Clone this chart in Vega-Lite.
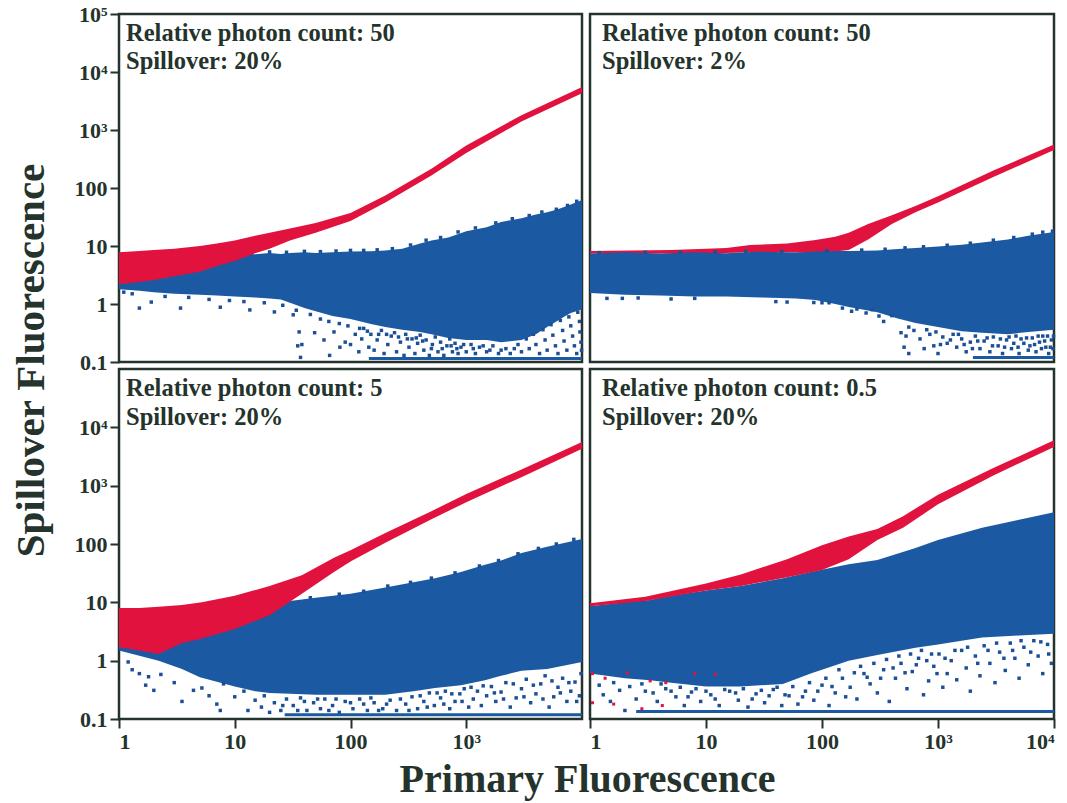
{"$schema":"https://vega.github.io/schema/vega-lite/v6.json","background":"white","padding":{"left":8,"top":1,"right":0,"bottom":0},"autosize":{"type":"pad"},
"config":{"view":{"stroke":"#24332b","strokeWidth":2.5},"font":"Liberation Serif","axis":{"grid":false,"domain":false,"tickColor":"#24332b","tickWidth":2,"tickSize":9,"labelFont":"Liberation Serif","labelFontWeight":"bold","labelFontSize":22,"labelColor":"#24332b","labelPadding":3,"titleFont":"Liberation Serif","titleFontWeight":"bold","titleColor":"#24332b","titleFontSize":41,"titleBaseline":"alphabetic"}},
"spacing":{"row":5,"column":7},"columns":2,"bounds":"flush","align":"all",
"datasets":{
"bands":[
{"p":"A","s":"blue","x":1,"lo":1.8,"hi":3},{"p":"A","s":"blue","x":1.5,"lo":1.7,"hi":3.5},{"p":"A","s":"blue","x":2,"lo":1.6,"hi":4},{"p":"A","s":"blue","x":3,"lo":1.5,"hi":4.8},{"p":"A","s":"blue","x":5,"lo":1.45,"hi":5.5},{"p":"A","s":"blue","x":7,"lo":1.4,"hi":6},{"p":"A","s":"blue","x":10,"lo":1.35,"hi":6.5},{"p":"A","s":"blue","x":15,"lo":1.3,"hi":7.2},{"p":"A","s":"blue","x":20,"lo":1.25,"hi":7.6},{"p":"A","s":"blue","x":25,"lo":1.2,"hi":7.3},{"p":"A","s":"blue","x":30,"lo":1.05,"hi":7.6},{"p":"A","s":"blue","x":40,"lo":0.85,"hi":7.8},{"p":"A","s":"blue","x":50,"lo":0.75,"hi":7.6},{"p":"A","s":"blue","x":70,"lo":0.62,"hi":7.8},{"p":"A","s":"blue","x":100,"lo":0.55,"hi":8},{"p":"A","s":"blue","x":150,"lo":0.45,"hi":8.1},{"p":"A","s":"blue","x":200,"lo":0.4,"hi":8.4},{"p":"A","s":"blue","x":280,"lo":0.36,"hi":9},{"p":"A","s":"blue","x":400,"lo":0.33,"hi":11},{"p":"A","s":"blue","x":500,"lo":0.3,"hi":12.5},{"p":"A","s":"blue","x":700,"lo":0.26,"hi":14},{"p":"A","s":"blue","x":1000,"lo":0.24,"hi":18},{"p":"A","s":"blue","x":1500,"lo":0.24,"hi":21},{"p":"A","s":"blue","x":2000,"lo":0.22,"hi":26},{"p":"A","s":"blue","x":3000,"lo":0.24,"hi":30},{"p":"A","s":"blue","x":4000,"lo":0.3,"hi":35},{"p":"A","s":"blue","x":5000,"lo":0.4,"hi":38},{"p":"A","s":"blue","x":6000,"lo":0.5,"hi":42},{"p":"A","s":"blue","x":7000,"lo":0.6,"hi":47},{"p":"A","s":"blue","x":8000,"lo":0.7,"hi":52},{"p":"A","s":"blue","x":10000,"lo":0.8,"hi":62},
{"p":"A","s":"red","x":1,"lo":2.2,"hi":7.8},{"p":"A","s":"red","x":1.5,"lo":2.4,"hi":8.2},{"p":"A","s":"red","x":2,"lo":2.6,"hi":8.5},{"p":"A","s":"red","x":3,"lo":3,"hi":9},{"p":"A","s":"red","x":5,"lo":3.6,"hi":10},{"p":"A","s":"red","x":7,"lo":4.5,"hi":11},{"p":"A","s":"red","x":10,"lo":5.5,"hi":12.5},{"p":"A","s":"red","x":15,"lo":7.5,"hi":15},{"p":"A","s":"red","x":20,"lo":9,"hi":17},{"p":"A","s":"red","x":30,"lo":12.5,"hi":20},{"p":"A","s":"red","x":50,"lo":17,"hi":25},{"p":"A","s":"red","x":100,"lo":27,"hi":37},{"p":"A","s":"red","x":200,"lo":56,"hi":74},{"p":"A","s":"red","x":500,"lo":165,"hi":215},{"p":"A","s":"red","x":1000,"lo":400,"hi":540},{"p":"A","s":"red","x":3000,"lo":1400,"hi":1800},{"p":"A","s":"red","x":10000,"lo":4300,"hi":5500},
{"p":"B","s":"red","x":1,"lo":7.4,"hi":8.2},{"p":"B","s":"red","x":5,"lo":7.4,"hi":8.5},{"p":"B","s":"red","x":15,"lo":7.6,"hi":9.2},{"p":"B","s":"red","x":24,"lo":7.8,"hi":10.4},{"p":"B","s":"red","x":50,"lo":7.8,"hi":11},{"p":"B","s":"red","x":88,"lo":7.6,"hi":12.7},{"p":"B","s":"red","x":130,"lo":8,"hi":14.5},{"p":"B","s":"red","x":170,"lo":8.5,"hi":17},{"p":"B","s":"red","x":250,"lo":13,"hi":24},{"p":"B","s":"red","x":400,"lo":24,"hi":34},{"p":"B","s":"red","x":640,"lo":38,"hi":49},{"p":"B","s":"red","x":1000,"lo":56,"hi":72},{"p":"B","s":"red","x":3000,"lo":155,"hi":200},{"p":"B","s":"red","x":10000,"lo":450,"hi":560},
{"p":"B","s":"blue","x":1,"lo":1.55,"hi":7.4},{"p":"B","s":"blue","x":2,"lo":1.45,"hi":7.8},{"p":"B","s":"blue","x":4,"lo":1.4,"hi":7.4},{"p":"B","s":"blue","x":8,"lo":1.35,"hi":7.8},{"p":"B","s":"blue","x":15,"lo":1.35,"hi":7.5},{"p":"B","s":"blue","x":30,"lo":1.3,"hi":8},{"p":"B","s":"blue","x":60,"lo":1.25,"hi":7.7},{"p":"B","s":"blue","x":88,"lo":1.17,"hi":8},{"p":"B","s":"blue","x":130,"lo":1,"hi":8.2},{"p":"B","s":"blue","x":170,"lo":0.89,"hi":8.2},{"p":"B","s":"blue","x":300,"lo":0.72,"hi":8.4},{"p":"B","s":"blue","x":450,"lo":0.56,"hi":8.9},{"p":"B","s":"blue","x":640,"lo":0.47,"hi":9.2},{"p":"B","s":"blue","x":1000,"lo":0.4,"hi":9.8},{"p":"B","s":"blue","x":1600,"lo":0.34,"hi":10.5},{"p":"B","s":"blue","x":2400,"lo":0.32,"hi":11.5},{"p":"B","s":"blue","x":4000,"lo":0.3,"hi":13},{"p":"B","s":"blue","x":6000,"lo":0.33,"hi":15},{"p":"B","s":"blue","x":10000,"lo":0.36,"hi":17.5},
{"p":"C","s":"blue","x":1,"lo":1.5,"hi":3},{"p":"C","s":"blue","x":2.2,"lo":1,"hi":3.2},{"p":"C","s":"blue","x":3.5,"lo":0.72,"hi":3.5},{"p":"C","s":"blue","x":5,"lo":0.52,"hi":4},{"p":"C","s":"blue","x":10,"lo":0.36,"hi":6},{"p":"C","s":"blue","x":15,"lo":0.3,"hi":8},{"p":"C","s":"blue","x":20,"lo":0.28,"hi":9},{"p":"C","s":"blue","x":30,"lo":0.27,"hi":10.5},{"p":"C","s":"blue","x":50,"lo":0.26,"hi":12},{"p":"C","s":"blue","x":100,"lo":0.26,"hi":14},{"p":"C","s":"blue","x":200,"lo":0.26,"hi":18},{"p":"C","s":"blue","x":350,"lo":0.3,"hi":22},{"p":"C","s":"blue","x":537,"lo":0.34,"hi":26},{"p":"C","s":"blue","x":900,"lo":0.38,"hi":33},{"p":"C","s":"blue","x":1450,"lo":0.46,"hi":44},{"p":"C","s":"blue","x":2000,"lo":0.55,"hi":52},{"p":"C","s":"blue","x":3000,"lo":0.67,"hi":70},{"p":"C","s":"blue","x":5000,"lo":0.72,"hi":90},{"p":"C","s":"blue","x":10000,"lo":0.95,"hi":122},
{"p":"C","s":"red","x":1,"lo":1.7,"hi":8},{"p":"C","s":"red","x":1.5,"lo":1.5,"hi":8},{"p":"C","s":"red","x":2.2,"lo":1.3,"hi":8.4},{"p":"C","s":"red","x":3.5,"lo":2,"hi":9},{"p":"C","s":"red","x":5.2,"lo":2.4,"hi":10},{"p":"C","s":"red","x":10,"lo":3.5,"hi":13},{"p":"C","s":"red","x":20,"lo":6,"hi":19},{"p":"C","s":"red","x":38,"lo":14,"hi":29},{"p":"C","s":"red","x":72,"lo":33,"hi":58},{"p":"C","s":"red","x":100,"lo":50,"hi":78},{"p":"C","s":"red","x":200,"lo":105,"hi":155},{"p":"C","s":"red","x":500,"lo":265,"hi":365},{"p":"C","s":"red","x":1000,"lo":520,"hi":720},{"p":"C","s":"red","x":3000,"lo":1400,"hi":1900},{"p":"C","s":"red","x":10000,"lo":4300,"hi":5600},
{"p":"D","s":"blue","x":1,"lo":0.6,"hi":8.6},{"p":"D","s":"blue","x":2,"lo":0.5,"hi":10},{"p":"D","s":"blue","x":3.3,"lo":0.46,"hi":11},{"p":"D","s":"blue","x":5,"lo":0.42,"hi":13},{"p":"D","s":"blue","x":10,"lo":0.36,"hi":16},{"p":"D","s":"blue","x":20,"lo":0.36,"hi":19},{"p":"D","s":"blue","x":46,"lo":0.4,"hi":26},{"p":"D","s":"blue","x":80,"lo":0.6,"hi":33},{"p":"D","s":"blue","x":170,"lo":1,"hi":45},{"p":"D","s":"blue","x":300,"lo":1.25,"hi":53},{"p":"D","s":"blue","x":640,"lo":1.66,"hi":85},{"p":"D","s":"blue","x":1000,"lo":1.9,"hi":117},{"p":"D","s":"blue","x":2400,"lo":2.5,"hi":190},{"p":"D","s":"blue","x":5000,"lo":2.7,"hi":260},{"p":"D","s":"blue","x":10000,"lo":2.9,"hi":350},
{"p":"D","s":"red","x":1,"lo":8.6,"hi":9.6},{"p":"D","s":"red","x":3,"lo":10.5,"hi":12.5},{"p":"D","s":"red","x":10,"lo":16,"hi":21},{"p":"D","s":"red","x":20,"lo":19,"hi":30},{"p":"D","s":"red","x":50,"lo":27,"hi":55},{"p":"D","s":"red","x":100,"lo":36,"hi":95},{"p":"D","s":"red","x":170,"lo":55,"hi":135},{"p":"D","s":"red","x":300,"lo":117,"hi":180},{"p":"D","s":"red","x":500,"lo":190,"hi":300},{"p":"D","s":"red","x":1000,"lo":480,"hi":700},{"p":"D","s":"red","x":3000,"lo":1500,"hi":2000},{"p":"D","s":"red","x":10000,"lo":4600,"hi":6000}
],
"lines":[{"p":"A","x":144,"y":0.115},{"p":"A","x":10000,"y":0.115},{"p":"B","x":2000,"y":0.12},{"p":"B","x":10000,"y":0.12},{"p":"C","x":27,"y":0.118},{"p":"C","x":10000,"y":0.118},{"p":"D","x":2.5,"y":0.135},{"p":"D","x":10000,"y":0.135}],
"notes":[{"p":"A","x":1.15,"y":45000,"t":"Relative photon count: 50"},{"p":"A","x":1.15,"y":14700,"t":"Spillover: 20%"},{"p":"B","x":1.27,"y":45000,"t":"Relative photon count: 50"},{"p":"B","x":1.27,"y":14700,"t":"Spillover: 2%"},{"p":"C","x":1.15,"y":45000,"t":"Relative photon count: 5"},{"p":"C","x":1.15,"y":14700,"t":"Spillover: 20%"},{"p":"D","x":1.27,"y":45000,"t":"Relative photon count: 0.5"},{"p":"D","x":1.27,"y":14700,"t":"Spillover: 20%"}],
"pts":[
{"p":"A","x":14,"y":7.4},{"p":"A","x":20,"y":7.9},{"p":"A","x":28,"y":7.8},{"p":"A","x":40,"y":8.1},{"p":"A","x":55,"y":8},{"p":"A","x":75,"y":8.2},{"p":"A","x":100,"y":8.4},{"p":"A","x":130,"y":8.4},{"p":"A","x":170,"y":8.6},{"p":"A","x":230,"y":9},{"p":"A","x":330,"y":10.4},{"p":"A","x":450,"y":12.6},{"p":"A","x":600,"y":14},{"p":"A","x":850,"y":17.5},{"p":"A","x":1200,"y":20.5},{"p":"A","x":1800,"y":25},{"p":"A","x":2500,"y":29.5},{"p":"A","x":3500,"y":33.5},{"p":"A","x":4500,"y":38.5},{"p":"A","x":6000,"y":43},{"p":"A","x":7500,"y":50},{"p":"A","x":9000,"y":59},
{"p":"A","x":1.1,"y":1.6},{"p":"A","x":1.3,"y":1.5},{"p":"A","x":2.5,"y":1.35},{"p":"A","x":4,"y":1.3},{"p":"A","x":6,"y":1.2},{"p":"A","x":9,"y":1.15},{"p":"A","x":12,"y":1.1},{"p":"A","x":18,"y":1.05},{"p":"A","x":26,"y":0.95},{"p":"A","x":34,"y":0.78},{"p":"A","x":45,"y":0.66},{"p":"A","x":55,"y":0.55},{"p":"A","x":65,"y":0.5},{"p":"A","x":80,"y":0.46},{"p":"A","x":95,"y":0.42},{"p":"A","x":120,"y":0.38},{"p":"A","x":140,"y":0.34},{"p":"A","x":175,"y":0.3},{"p":"A","x":205,"y":0.3},{"p":"A","x":260,"y":0.27},{"p":"A","x":310,"y":0.25},{"p":"A","x":370,"y":0.26},{"p":"A","x":420,"y":0.23},{"p":"A","x":500,"y":0.17},{"p":"A","x":620,"y":0.17},{"p":"A","x":740,"y":0.19},{"p":"A","x":830,"y":0.17},{"p":"A","x":950,"y":0.2},{"p":"A","x":1150,"y":0.17},{"p":"A","x":1400,"y":0.19},{"p":"A","x":1600,"y":0.16},{"p":"A","x":2000,"y":0.16},{"p":"A","x":2600,"y":0.17},
{"p":"A","x":1.5,"y":0.85},{"p":"A","x":1.9,"y":1.08},{"p":"A","x":3.4,"y":0.85},{"p":"A","x":7.5,"y":0.88},{"p":"A","x":13.5,"y":0.79},{"p":"A","x":22,"y":0.73},{"p":"A","x":32,"y":0.65},{"p":"A","x":36,"y":0.33},{"p":"A","x":35,"y":0.19},{"p":"A","x":38,"y":0.2},{"p":"A","x":37,"y":0.12},{"p":"A","x":49,"y":0.32},{"p":"A","x":59,"y":0.24},{"p":"A","x":72,"y":0.33},{"p":"A","x":66,"y":0.13},{"p":"A","x":81,"y":0.18},{"p":"A","x":118,"y":0.15},{"p":"A","x":90,"y":0.22},{"p":"A","x":144,"y":0.18},{"p":"A","x":100,"y":0.2},{"p":"A","x":110,"y":0.3},{"p":"A","x":125,"y":0.25},{"p":"A","x":130,"y":0.38},{"p":"A","x":150,"y":0.3},{"p":"A","x":160,"y":0.16},{"p":"A","x":170,"y":0.24},{"p":"A","x":185,"y":0.35},{"p":"A","x":195,"y":0.14},{"p":"A","x":210,"y":0.2},{"p":"A","x":225,"y":0.28},{"p":"A","x":240,"y":0.32},{"p":"A","x":250,"y":0.15},{"p":"A","x":270,"y":0.22},{"p":"A","x":290,"y":0.13},{"p":"A","x":300,"y":0.3},{"p":"A","x":320,"y":0.18},{"p":"A","x":340,"y":0.25},{"p":"A","x":360,"y":0.14},{"p":"A","x":380,"y":0.21},{"p":"A","x":400,"y":0.29},{"p":"A","x":430,"y":0.16},{"p":"A","x":450,"y":0.24},{"p":"A","x":480,"y":0.13},{"p":"A","x":510,"y":0.2},{"p":"A","x":540,"y":0.27},{"p":"A","x":570,"y":0.15},{"p":"A","x":600,"y":0.22},{"p":"A","x":640,"y":0.13},{"p":"A","x":680,"y":0.19},{"p":"A","x":720,"y":0.25},{"p":"A","x":760,"y":0.15},{"p":"A","x":800,"y":0.21},{"p":"A","x":850,"y":0.14},{"p":"A","x":900,"y":0.18},{"p":"A","x":1000,"y":0.15},{"p":"A","x":1100,"y":0.2},{"p":"A","x":1200,"y":0.14},{"p":"A","x":1300,"y":0.18},{"p":"A","x":1500,"y":0.15},{"p":"A","x":1700,"y":0.19},{"p":"A","x":1900,"y":0.14},{"p":"A","x":2200,"y":0.17},{"p":"A","x":2400,"y":0.14},{"p":"A","x":2800,"y":0.2},{"p":"A","x":3000,"y":0.15},{"p":"A","x":3300,"y":0.25},{"p":"A","x":3500,"y":0.17},{"p":"A","x":3800,"y":0.3},{"p":"A","x":4000,"y":0.2},{"p":"A","x":4300,"y":0.14},{"p":"A","x":4600,"y":0.36},{"p":"A","x":4800,"y":0.24},{"p":"A","x":5000,"y":0.16},{"p":"A","x":5400,"y":0.44},{"p":"A","x":5600,"y":0.29},{"p":"A","x":5900,"y":0.19},{"p":"A","x":6200,"y":0.14},{"p":"A","x":6500,"y":0.52},{"p":"A","x":6800,"y":0.35},{"p":"A","x":7000,"y":0.23},{"p":"A","x":7400,"y":0.16},{"p":"A","x":7700,"y":0.6},{"p":"A","x":8000,"y":0.42},{"p":"A","x":8300,"y":0.28},{"p":"A","x":8600,"y":0.19},{"p":"A","x":9000,"y":0.14},{"p":"A","x":9200,"y":0.72},{"p":"A","x":9500,"y":0.5},{"p":"A","x":9600,"y":0.33},{"p":"A","x":9800,"y":0.22},{"p":"A","x":9900,"y":0.16},
{"p":"B","x":1.2,"y":7.7},{"p":"B","x":3,"y":7.8},{"p":"B","x":6,"y":7.8},{"p":"B","x":12,"y":7.9},{"p":"B","x":22,"y":8.1},{"p":"B","x":45,"y":8},{"p":"B","x":110,"y":8.3},{"p":"B","x":220,"y":8.5},{"p":"B","x":350,"y":8.8},{"p":"B","x":520,"y":9.3},{"p":"B","x":750,"y":9.7},{"p":"B","x":1200,"y":10.3},{"p":"B","x":1900,"y":11.2},{"p":"B","x":3000,"y":12.6},{"p":"B","x":4500,"y":14},{"p":"B","x":6500,"y":16},{"p":"B","x":8000,"y":17.3},{"p":"B","x":9700,"y":18},
{"p":"B","x":1.4,"y":1.25},{"p":"B","x":1.9,"y":1.25},{"p":"B","x":2.6,"y":1.27},{"p":"B","x":5,"y":1.22},{"p":"B","x":8,"y":1.25},{"p":"B","x":40,"y":1.1},{"p":"B","x":50,"y":1.08},{"p":"B","x":85,"y":1.06},{"p":"B","x":100,"y":1.05},{"p":"B","x":115,"y":1.05},{"p":"B","x":150,"y":0.85},{"p":"B","x":180,"y":0.75},{"p":"B","x":200,"y":0.82},{"p":"B","x":240,"y":0.7},{"p":"B","x":270,"y":0.8},{"p":"B","x":310,"y":0.62},{"p":"B","x":340,"y":0.5},{"p":"B","x":400,"y":0.63},{"p":"B","x":480,"y":0.32},{"p":"B","x":510,"y":0.18},{"p":"B","x":530,"y":0.28},{"p":"B","x":560,"y":0.14},{"p":"B","x":620,"y":0.35},{"p":"B","x":700,"y":0.25},{"p":"B","x":760,"y":0.17},{"p":"B","x":850,"y":0.3},{"p":"B","x":920,"y":0.19},{"p":"B","x":1000,"y":0.14},{"p":"B","x":1100,"y":0.27},{"p":"B","x":1200,"y":0.21},{"p":"B","x":1350,"y":0.3},{"p":"B","x":1450,"y":0.18},{"p":"B","x":1600,"y":0.25},{"p":"B","x":1750,"y":0.15},{"p":"B","x":1900,"y":0.22},{"p":"B","x":2100,"y":0.28},{"p":"B","x":2300,"y":0.17},{"p":"B","x":2500,"y":0.23},{"p":"B","x":2800,"y":0.15},{"p":"B","x":3000,"y":0.27},{"p":"B","x":3300,"y":0.19},{"p":"B","x":3600,"y":0.14},{"p":"B","x":3900,"y":0.24},{"p":"B","x":4300,"y":0.17},{"p":"B","x":4700,"y":0.28},{"p":"B","x":5000,"y":0.14},{"p":"B","x":5500,"y":0.21},{"p":"B","x":6000,"y":0.16},{"p":"B","x":6500,"y":0.26},{"p":"B","x":7000,"y":0.15},{"p":"B","x":7500,"y":0.22},{"p":"B","x":8000,"y":0.28},{"p":"B","x":8500,"y":0.18},{"p":"B","x":9000,"y":0.14},{"p":"B","x":9500,"y":0.24},{"p":"B","x":9800,"y":0.17},
{"p":"B","x":560,"y":0.4},{"p":"B","x":800,"y":0.36},{"p":"B","x":960,"y":0.33},{"p":"B","x":1050,"y":0.2},{"p":"B","x":1280,"y":0.24},{"p":"B","x":1500,"y":0.3},{"p":"B","x":1680,"y":0.2},{"p":"B","x":1980,"y":0.17},{"p":"B","x":2200,"y":0.23},{"p":"B","x":2650,"y":0.26},{"p":"B","x":2950,"y":0.19},{"p":"B","x":3450,"y":0.25},{"p":"B","x":3750,"y":0.18},{"p":"B","x":4100,"y":0.27},{"p":"B","x":4500,"y":0.21},{"p":"B","x":4900,"y":0.18},{"p":"B","x":5200,"y":0.25},{"p":"B","x":5800,"y":0.26},{"p":"B","x":6200,"y":0.19},{"p":"B","x":6800,"y":0.2},{"p":"B","x":7300,"y":0.28},{"p":"B","x":7800,"y":0.17},{"p":"B","x":8300,"y":0.23},{"p":"B","x":8800,"y":0.28},{"p":"B","x":9300,"y":0.18},{"p":"B","x":9900,"y":0.28},
{"p":"C","x":25,"y":10.2},{"p":"C","x":45,"y":12},{"p":"C","x":80,"y":13.8},{"p":"C","x":130,"y":15.5},{"p":"C","x":210,"y":19},{"p":"C","x":330,"y":22},{"p":"C","x":500,"y":26},{"p":"C","x":800,"y":32},{"p":"C","x":1300,"y":42},{"p":"C","x":1900,"y":52},{"p":"C","x":2800,"y":68},{"p":"C","x":4200,"y":84},{"p":"C","x":6000,"y":100},{"p":"C","x":8500,"y":120},
{"p":"C","x":1.2,"y":0.95},{"p":"C","x":1.3,"y":0.7},{"p":"C","x":1.5,"y":0.6},{"p":"C","x":1.7,"y":0.38},{"p":"C","x":1.8,"y":0.53},{"p":"C","x":2,"y":0.31},{"p":"C","x":2.3,"y":0.58},{"p":"C","x":3,"y":0.42},{"p":"C","x":3.5,"y":0.2},{"p":"C","x":4.4,"y":0.31},{"p":"C","x":5.2,"y":0.34},{"p":"C","x":6,"y":0.25},{"p":"C","x":7,"y":0.18},{"p":"C","x":7.5,"y":0.14},{"p":"C","x":8,"y":0.4},{"p":"C","x":10,"y":0.24},{"p":"C","x":12,"y":0.3},{"p":"C","x":13,"y":0.14},{"p":"C","x":15,"y":0.21},{"p":"C","x":17,"y":0.16},{"p":"C","x":18,"y":0.25},{"p":"C","x":20,"y":0.13},{"p":"C","x":22,"y":0.19},{"p":"C","x":25,"y":0.14},{"p":"C","x":28,"y":0.22},{"p":"C","x":32,"y":0.17},{"p":"C","x":37,"y":0.23},{"p":"C","x":42,"y":0.14},{"p":"C","x":48,"y":0.19},{"p":"C","x":55,"y":0.15},{"p":"C","x":60,"y":0.22},{"p":"C","x":70,"y":0.17},{"p":"C","x":80,"y":0.13},{"p":"C","x":90,"y":0.2},{"p":"C","x":105,"y":0.15},{"p":"C","x":120,"y":0.22},{"p":"C","x":140,"y":0.14},{"p":"C","x":160,"y":0.19},{"p":"C","x":190,"y":0.15},{"p":"C","x":220,"y":0.21},{"p":"C","x":250,"y":0.14},{"p":"C","x":300,"y":0.18},{"p":"C","x":340,"y":0.24},{"p":"C","x":380,"y":0.15},{"p":"C","x":430,"y":0.2},{"p":"C","x":480,"y":0.28},{"p":"C","x":530,"y":0.17},{"p":"C","x":600,"y":0.23},{"p":"C","x":660,"y":0.3},{"p":"C","x":720,"y":0.15},{"p":"C","x":800,"y":0.2},{"p":"C","x":880,"y":0.27},{"p":"C","x":960,"y":0.33},{"p":"C","x":1050,"y":0.16},{"p":"C","x":1150,"y":0.22},{"p":"C","x":1250,"y":0.3},{"p":"C","x":1350,"y":0.17},{"p":"C","x":1500,"y":0.25},{"p":"C","x":1650,"y":0.36},{"p":"C","x":1800,"y":0.2},{"p":"C","x":2000,"y":0.29},{"p":"C","x":2200,"y":0.42},{"p":"C","x":2400,"y":0.16},{"p":"C","x":2700,"y":0.23},{"p":"C","x":3000,"y":0.33},{"p":"C","x":3300,"y":0.48},{"p":"C","x":3600,"y":0.19},{"p":"C","x":4000,"y":0.27},{"p":"C","x":4400,"y":0.4},{"p":"C","x":4800,"y":0.55},{"p":"C","x":5200,"y":0.16},{"p":"C","x":5700,"y":0.24},{"p":"C","x":6200,"y":0.35},{"p":"C","x":6800,"y":0.5},{"p":"C","x":7400,"y":0.2},{"p":"C","x":8000,"y":0.3},{"p":"C","x":8700,"y":0.43},{"p":"C","x":9500,"y":0.25},{"p":"C","x":9800,"y":0.6},
{"p":"C","x":26,"y":0.17},{"p":"C","x":35,"y":0.14},{"p":"C","x":40,"y":0.2},{"p":"C","x":52,"y":0.22},{"p":"C","x":65,"y":0.14},{"p":"C","x":75,"y":0.22},{"p":"C","x":100,"y":0.19},{"p":"C","x":130,"y":0.18},{"p":"C","x":150,"y":0.23},{"p":"C","x":175,"y":0.14},{"p":"C","x":205,"y":0.18},{"p":"C","x":270,"y":0.22},{"p":"C","x":320,"y":0.14},{"p":"C","x":400,"y":0.25},{"p":"C","x":460,"y":0.16},{"p":"C","x":560,"y":0.28},{"p":"C","x":640,"y":0.18},{"p":"C","x":750,"y":0.27},{"p":"C","x":920,"y":0.2},{"p":"C","x":1100,"y":0.35},{"p":"C","x":1400,"y":0.37},{"p":"C","x":1750,"y":0.28},{"p":"C","x":2100,"y":0.22},{"p":"C","x":2550,"y":0.4},{"p":"C","x":3150,"y":0.24},{"p":"C","x":3800,"y":0.38},{"p":"C","x":4600,"y":0.22},{"p":"C","x":5500,"y":0.45},{"p":"C","x":6500,"y":0.28},{"p":"C","x":7700,"y":0.42},{"p":"C","x":9000,"y":0.2},
{"p":"D","x":1.2,"y":0.38},{"p":"D","x":1.3,"y":0.26},{"p":"D","x":1.5,"y":0.2},{"p":"D","x":1.8,"y":0.31},{"p":"D","x":2,"y":0.14},{"p":"D","x":2.5,"y":0.22},{"p":"D","x":3,"y":0.3},{"p":"D","x":3.8,"y":0.2},{"p":"D","x":4.5,"y":0.33},{"p":"D","x":5.5,"y":0.24},{"p":"D","x":6.5,"y":0.17},{"p":"D","x":7.5,"y":0.29},{"p":"D","x":9,"y":0.2},{"p":"D","x":11,"y":0.26},{"p":"D","x":13,"y":0.17},{"p":"D","x":16,"y":0.3},{"p":"D","x":19,"y":0.21},{"p":"D","x":23,"y":0.16},{"p":"D","x":27,"y":0.27},{"p":"D","x":32,"y":0.19},{"p":"D","x":38,"y":0.32},{"p":"D","x":45,"y":0.17},{"p":"D","x":52,"y":0.25},{"p":"D","x":62,"y":0.18},{"p":"D","x":72,"y":0.3},{"p":"D","x":85,"y":0.21},{"p":"D","x":100,"y":0.38},{"p":"D","x":115,"y":0.17},{"p":"D","x":130,"y":0.28},{"p":"D","x":150,"y":0.5},{"p":"D","x":175,"y":0.35},{"p":"D","x":200,"y":0.22},{"p":"D","x":230,"y":0.6},{"p":"D","x":260,"y":0.4},{"p":"D","x":300,"y":0.28},{"p":"D","x":340,"y":0.7},{"p":"D","x":380,"y":0.2},{"p":"D","x":430,"y":0.5},{"p":"D","x":480,"y":0.9},{"p":"D","x":540,"y":0.33},{"p":"D","x":600,"y":0.65},{"p":"D","x":680,"y":1.1},{"p":"D","x":750,"y":0.26},{"p":"D","x":830,"y":0.45},{"p":"D","x":920,"y":0.8},{"p":"D","x":1020,"y":1.3},{"p":"D","x":1100,"y":0.35},{"p":"D","x":1200,"y":0.6},{"p":"D","x":1300,"y":1},{"p":"D","x":1450,"y":0.47},{"p":"D","x":1600,"y":1.5},{"p":"D","x":1750,"y":0.75},{"p":"D","x":1900,"y":0.3},{"p":"D","x":2100,"y":1.2},{"p":"D","x":2300,"y":0.55},{"p":"D","x":2500,"y":1.8},{"p":"D","x":2800,"y":0.9},{"p":"D","x":3100,"y":0.42},{"p":"D","x":3400,"y":1.4},{"p":"D","x":3800,"y":0.68},{"p":"D","x":4200,"y":2},{"p":"D","x":4600,"y":1.1},{"p":"D","x":5000,"y":0.5},{"p":"D","x":5500,"y":1.7},{"p":"D","x":6000,"y":0.85},{"p":"D","x":6700,"y":2.2},{"p":"D","x":7300,"y":1.2},{"p":"D","x":8000,"y":0.6},{"p":"D","x":8800,"y":1.9},{"p":"D","x":9500,"y":0.9},
{"p":"D","x":1.6,"y":0.42},{"p":"D","x":2.2,"y":0.36},{"p":"D","x":2.8,"y":0.4},{"p":"D","x":3.5,"y":0.28},{"p":"D","x":4.1,"y":0.4},{"p":"D","x":5,"y":0.3},{"p":"D","x":6,"y":0.35},{"p":"D","x":7,"y":0.24},{"p":"D","x":8.2,"y":0.33},{"p":"D","x":10,"y":0.3},{"p":"D","x":12,"y":0.22},{"p":"D","x":14.5,"y":0.32},{"p":"D","x":18,"y":0.28},{"p":"D","x":21,"y":0.33},{"p":"D","x":25,"y":0.22},{"p":"D","x":30,"y":0.31},{"p":"D","x":35,"y":0.25},{"p":"D","x":41,"y":0.35},{"p":"D","x":48,"y":0.26},{"p":"D","x":56,"y":0.36},{"p":"D","x":68,"y":0.24},{"p":"D","x":78,"y":0.42},{"p":"D","x":92,"y":0.3},{"p":"D","x":108,"y":0.5},{"p":"D","x":122,"y":0.36},{"p":"D","x":140,"y":0.7},{"p":"D","x":160,"y":0.24},{"p":"D","x":190,"y":0.62},{"p":"D","x":215,"y":0.8},{"p":"D","x":245,"y":0.52},{"p":"D","x":280,"y":0.9},{"p":"D","x":320,"y":0.5},{"p":"D","x":360,"y":1.05},{"p":"D","x":410,"y":0.75},{"p":"D","x":460,"y":1.2},{"p":"D","x":520,"y":0.62},{"p":"D","x":580,"y":1.3},{"p":"D","x":650,"y":0.85},{"p":"D","x":720,"y":1.5},{"p":"D","x":800,"y":1},{"p":"D","x":880,"y":1.3},{"p":"D","x":980,"y":0.6},{"p":"D","x":1150,"y":1.1},{"p":"D","x":1400,"y":1.5},{"p":"D","x":1800,"y":1.7},{"p":"D","x":2200,"y":0.9},{"p":"D","x":2700,"y":1.5},{"p":"D","x":3200,"y":2},{"p":"D","x":3700,"y":1.1},{"p":"D","x":4400,"y":1.5},{"p":"D","x":5200,"y":2.2},{"p":"D","x":6300,"y":1.4},{"p":"D","x":7700,"y":2.1},{"p":"D","x":9000,"y":1.3},
{"p":"R","x":1.05,"y":0.6},{"p":"R","x":1.05,"y":0.19},{"p":"R","x":1.35,"y":0.5},{"p":"R","x":1.6,"y":0.18},{"p":"R","x":2.1,"y":0.62},{"p":"R","x":2.8,"y":0.15},{"p":"R","x":3.3,"y":0.45},{"p":"R","x":4.2,"y":0.17},{"p":"R","x":4.5,"y":0.42},{"p":"R","x":8,"y":0.6},{"p":"R","x":12,"y":0.58}
]},
"concat":[
{"width":463,"height":348,"layer":[
{"data":{"name":"bands"},"transform":[{"filter":"datum.p=='A' && datum.s=='blue'"}],"mark":{"type":"area","color":"#1b5aa3"},"encoding":{"x":{"field":"x","type":"quantitative","scale":{"type":"log","domain":[1,10000],"nice":false},"axis":null},"y":{"field":"lo","type":"quantitative","scale":{"type":"log","domain":[0.1,100000],"nice":false},"axis":{"values":[0.1,1,10,100,1000,10000,100000],"title":"Spillover Fluorescence","titleX":-76,"titleY":346,"labelExpr":"datum.value==100000?'10⁵':datum.value==10000?'10⁴':datum.value==1000?'10³':datum.label"}},"y2":{"field":"hi"}}},
{"data":{"name":"pts"},"transform":[{"filter":"datum.p=='A'"}],"mark":{"type":"square","size":12,"color":"#1b4f96","opacity":1},"encoding":{"x":{"field":"x","type":"quantitative"},"y":{"field":"y","type":"quantitative"}}},
{"data":{"name":"lines"},"transform":[{"filter":"datum.p=='A'"}],"mark":{"type":"line","color":"#1b5aa3","strokeWidth":3},"encoding":{"x":{"field":"x","type":"quantitative"},"y":{"field":"y","type":"quantitative"}}},
{"data":{"name":"bands"},"transform":[{"filter":"datum.p=='A' && datum.s=='red'"}],"mark":{"type":"area","color":"#e2123e"},"encoding":{"x":{"field":"x","type":"quantitative"},"y":{"field":"lo","type":"quantitative"},"y2":{"field":"hi"}}},
{"data":{"name":"notes"},"transform":[{"filter":"datum.p=='A'"}],"mark":{"type":"text","align":"left","baseline":"middle","font":"Liberation Serif","fontWeight":"bold","fontSize":24.5,"color":"#24332b"},"encoding":{"x":{"field":"x","type":"quantitative"},"y":{"field":"y","type":"quantitative"},"text":{"field":"t"}}}
]},
{"width":464,"height":348,"layer":[
{"data":{"name":"bands"},"transform":[{"filter":"datum.p=='B' && datum.s=='red'"}],"mark":{"type":"area","color":"#e2123e"},"encoding":{"x":{"field":"x","type":"quantitative","scale":{"type":"log","domain":[1,10000],"nice":false},"axis":null},"y":{"field":"lo","type":"quantitative","scale":{"type":"log","domain":[0.1,100000],"nice":false},"axis":null},"y2":{"field":"hi"}}},
{"data":{"name":"bands"},"transform":[{"filter":"datum.p=='B' && datum.s=='blue'"}],"mark":{"type":"area","color":"#1b5aa3"},"encoding":{"x":{"field":"x","type":"quantitative"},"y":{"field":"lo","type":"quantitative"},"y2":{"field":"hi"}}},
{"data":{"name":"pts"},"transform":[{"filter":"datum.p=='B'"}],"mark":{"type":"square","size":12,"color":"#1b4f96","opacity":1},"encoding":{"x":{"field":"x","type":"quantitative"},"y":{"field":"y","type":"quantitative"}}},
{"data":{"name":"lines"},"transform":[{"filter":"datum.p=='B'"}],"mark":{"type":"line","color":"#1b5aa3","strokeWidth":3},"encoding":{"x":{"field":"x","type":"quantitative"},"y":{"field":"y","type":"quantitative"}}},
{"data":{"name":"notes"},"transform":[{"filter":"datum.p=='B'"}],"mark":{"type":"text","align":"left","baseline":"middle","font":"Liberation Serif","fontWeight":"bold","fontSize":24.5,"color":"#24332b"},"encoding":{"x":{"field":"x","type":"quantitative"},"y":{"field":"y","type":"quantitative"},"text":{"field":"t"}}}
]},
{"width":463,"height":350,"layer":[
{"data":{"name":"bands"},"transform":[{"filter":"datum.p=='C' && datum.s=='blue'"}],"mark":{"type":"area","color":"#1b5aa3"},"encoding":{"x":{"field":"x","type":"quantitative","scale":{"type":"log","domain":[1,10000],"nice":false},"axis":{"values":[1,10,100,1000],"title":"Primary Fluorescence","titleFontSize":40,"titleX":468,"titleY":72,"labelExpr":"datum.value==1000?'10³':datum.label"}},"y":{"field":"lo","type":"quantitative","scale":{"type":"log","domain":[0.1,100000],"nice":false},"axis":{"values":[0.1,1,10,100,1000,10000],"title":null,"labelExpr":"datum.value==10000?'10⁴':datum.value==1000?'10³':datum.label"}},"y2":{"field":"hi"}}},
{"data":{"name":"pts"},"transform":[{"filter":"datum.p=='C'"}],"mark":{"type":"square","size":12,"color":"#1b4f96","opacity":1},"encoding":{"x":{"field":"x","type":"quantitative"},"y":{"field":"y","type":"quantitative"}}},
{"data":{"name":"lines"},"transform":[{"filter":"datum.p=='C'"}],"mark":{"type":"line","color":"#1b5aa3","strokeWidth":3},"encoding":{"x":{"field":"x","type":"quantitative"},"y":{"field":"y","type":"quantitative"}}},
{"data":{"name":"bands"},"transform":[{"filter":"datum.p=='C' && datum.s=='red'"}],"mark":{"type":"area","color":"#e2123e"},"encoding":{"x":{"field":"x","type":"quantitative"},"y":{"field":"lo","type":"quantitative"},"y2":{"field":"hi"}}},
{"data":{"name":"notes"},"transform":[{"filter":"datum.p=='C'"}],"mark":{"type":"text","align":"left","baseline":"middle","font":"Liberation Serif","fontWeight":"bold","fontSize":24.5,"color":"#24332b"},"encoding":{"x":{"field":"x","type":"quantitative"},"y":{"field":"y","type":"quantitative"},"text":{"field":"t"}}}
]},
{"width":464,"height":350,"layer":[
{"data":{"name":"bands"},"transform":[{"filter":"datum.p=='D' && datum.s=='blue'"}],"mark":{"type":"area","color":"#1b5aa3"},"encoding":{"x":{"field":"x","type":"quantitative","scale":{"type":"log","domain":[1,10000],"nice":false},"axis":{"values":[1,10,100,1000,10000],"title":null,"labelExpr":"datum.value==10000?'10⁴':datum.value==1000?'10³':datum.label"}},"y":{"field":"lo","type":"quantitative","scale":{"type":"log","domain":[0.1,100000],"nice":false},"axis":null},"y2":{"field":"hi"}}},
{"data":{"name":"pts"},"transform":[{"filter":"datum.p=='D'"}],"mark":{"type":"square","size":12,"color":"#1b4f96","opacity":1},"encoding":{"x":{"field":"x","type":"quantitative"},"y":{"field":"y","type":"quantitative"}}},
{"data":{"name":"pts"},"transform":[{"filter":"datum.p=='R'"}],"mark":{"type":"square","size":9,"color":"#e2123e","opacity":1},"encoding":{"x":{"field":"x","type":"quantitative"},"y":{"field":"y","type":"quantitative"}}},
{"data":{"name":"lines"},"transform":[{"filter":"datum.p=='D'"}],"mark":{"type":"line","color":"#1b5aa3","strokeWidth":3},"encoding":{"x":{"field":"x","type":"quantitative"},"y":{"field":"y","type":"quantitative"}}},
{"data":{"name":"bands"},"transform":[{"filter":"datum.p=='D' && datum.s=='red'"}],"mark":{"type":"area","color":"#e2123e"},"encoding":{"x":{"field":"x","type":"quantitative"},"y":{"field":"lo","type":"quantitative"},"y2":{"field":"hi"}}},
{"data":{"name":"notes"},"transform":[{"filter":"datum.p=='D'"}],"mark":{"type":"text","align":"left","baseline":"middle","font":"Liberation Serif","fontWeight":"bold","fontSize":24.5,"color":"#24332b"},"encoding":{"x":{"field":"x","type":"quantitative"},"y":{"field":"y","type":"quantitative"},"text":{"field":"t"}}}
]}
]}
